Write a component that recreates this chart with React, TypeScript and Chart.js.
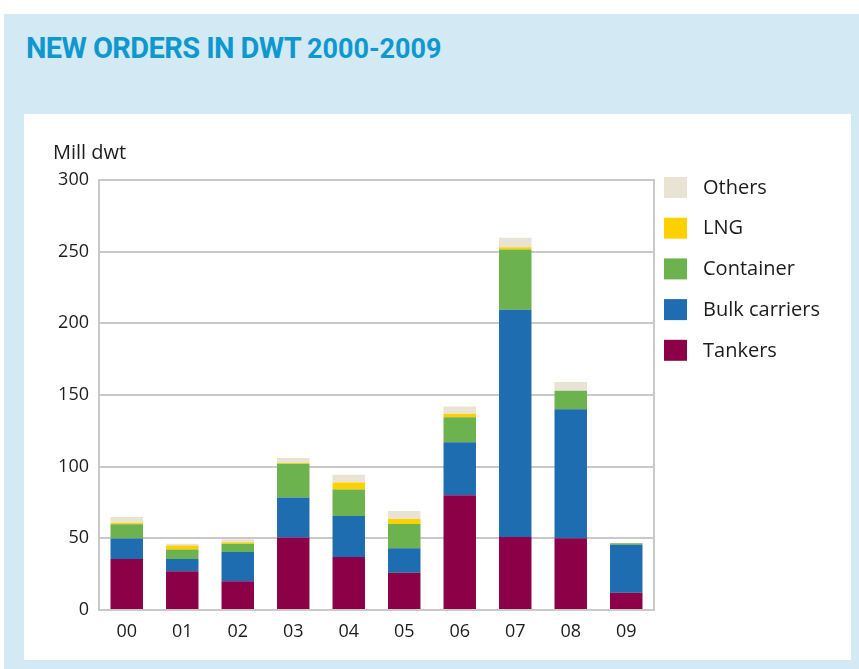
import React, { useEffect, useRef } from "react";
import { Chart, registerables } from "chart.js";

Chart.register(...registerables);

const categories = ["00", "01", "02", "03", "04", "05", "06", "07", "08", "09"];
const tankers = [35.5, 27, 20, 50.5, 37, 26, 80, 51, 50, 12];
const bulkCarriers = [14.3, 8.5, 20.5, 28, 28.5, 17, 37, 158.5, 90, 33.5];
const container = [10, 6.7, 5.8, 23.5, 18.5, 17, 17.5, 42, 13, 1];
const lng = [1, 2.8, 1, 0.7, 5, 3.5, 2.5, 1.5, 0, 0];
const others = [4, 1.2, 2, 3.3, 5.3, 5.5, 5, 6.7, 6, 0];
const yMin = 0;
const yMax = 300;
const yStep = 50;
const yUnit = "Mill dwt";

const FONT = "'Open Sans', 'Noto Sans', sans-serif";
const GRID = "#c9c9c9";
const TEXT = "#1c1c1c";

const sideLegend = {
  id: "sideLegend",
  afterDraw(chart: any) {
    const { ctx, chartArea } = chart;
    ctx.save();
    ctx.font = `20px ${FONT}`;
    ctx.fillStyle = TEXT;
    ctx.textAlign = "left";
    ctx.textBaseline = "middle";
    ctx.fillText(yUnit, chartArea.left - 46, chartArea.top - 27);
    const ds = [...chart.data.datasets].reverse();
    const x = chartArea.right + 10;
    ds.forEach((d: any, i: number) => {
      const y = chartArea.top - 3 + i * 40.7;
      ctx.fillStyle = d.backgroundColor;
      ctx.fillRect(x, y, 23, 21);
      ctx.fillStyle = TEXT;
      ctx.font = `20px ${FONT}`;
      ctx.fillText(d.label, x + 39, y + 11);
    });
    ctx.restore();
  },
  beforeDatasetsDraw(chart: any) {
    const { ctx, chartArea } = chart;
    ctx.save();
    ctx.strokeStyle = GRID;
    ctx.lineWidth = 2;
    ctx.beginPath();
    ctx.moveTo(chartArea.right, chartArea.top - 1);
    ctx.lineTo(chartArea.right, chartArea.bottom + 1);
    ctx.stroke();
    ctx.restore();
  },
};

export default function App() {
  const ref = useRef<HTMLCanvasElement | null>(null);

  useEffect(() => {
    if (!ref.current) return;
    const chart = new Chart(ref.current, {
      type: "bar",
      data: {
        labels: categories,
        datasets: [
          { label: "Tankers", data: tankers, backgroundColor: "#8c0047" },
          { label: "Bulk carriers", data: bulkCarriers, backgroundColor: "#1f6db1" },
          { label: "Container", data: container, backgroundColor: "#6cb24f" },
          { label: "LNG", data: lng, backgroundColor: "#ffd000" },
          { label: "Others", data: others, backgroundColor: "#e8e3d3" },
        ],
      },
      options: {
        responsive: false,
        animation: false,
        layout: { padding: { top: 66, right: 197, left: 0, bottom: 0 } },
        datasets: { bar: { barPercentage: 0.585, categoryPercentage: 1, borderWidth: 0 } },
        plugins: {
          legend: { display: false },
          title: { display: false },
          tooltip: { enabled: false },
        },
        scales: {
          x: {
            stacked: true,
            grid: { display: false, drawTicks: false },
            border: { display: true, color: GRID, width: 2 },
            ticks: { color: TEXT, font: { family: FONT, size: 18 }, padding: 11 },
            afterFit: (s: any) => {
              s.height = 50;
            },
          },
          y: {
            stacked: true,
            min: yMin,
            max: yMax,
            ticks: { stepSize: yStep, color: TEXT, font: { family: FONT, size: 18 }, padding: 10 },
            grid: { color: GRID, lineWidth: 2, drawTicks: false },
            border: { display: true, color: GRID, width: 2 },
            afterFit: (s: any) => {
              s.width = 75;
            },
          },
        },
      },
      plugins: [sideLegend],
    });
    return () => chart.destroy();
  }, []);

  return (
    <div style={{ position: "absolute", left: 0, top: 0, width: 859, height: 669, background: "#fff", overflow: "hidden" }}>
      <div style={{ position: "absolute", left: 4, top: 14, width: 855, height: 655, background: "#d3eaf5" }} />
      <div
        style={{
          position: "absolute",
          left: 26,
          top: 31,
          fontFamily: "'Liberation Sans Narrow', 'Roboto', sans-serif",
          fontWeight: 700,
          color: "#0f98cf",
          fontSize: 29,
          whiteSpace: "nowrap",
          lineHeight: "34px",
          letterSpacing: -0.6,
        }}
      >
        NEW ORDERS IN DWT <span style={{ fontSize: 27, letterSpacing: 0 }}>2000-2009</span>
      </div>
      <div style={{ position: "absolute", left: 24, top: 114, width: 827, height: 546, background: "#fff" }} />
      <canvas ref={ref} width={827} height={546} style={{ position: "absolute", left: 24, top: 114 }} />
    </div>
  );
}
